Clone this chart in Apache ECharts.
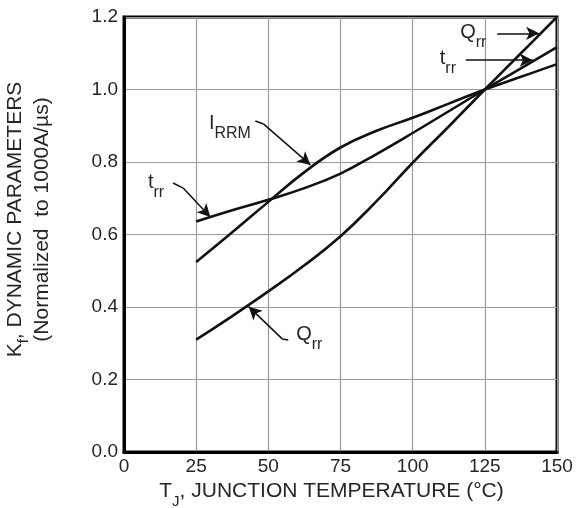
<!DOCTYPE html>
<html>
<head>
<meta charset="utf-8">
<script src="https://cdn.jsdelivr.net/npm/echarts@6/dist/echarts.min.js"></script>
<style>
  html, body { margin: 0; padding: 0; background: #fff; }
  #chart { width: 579px; height: 508px; }
</style>
</head>
<body>
<div id="chart"></div>
<script>
"use strict";
// junction temperature (°C)
var temps = [25, 37.5, 50, 62.5, 75, 87.5, 100, 112.5, 125, 137.5, 150];
// normalized dynamic parameters
var qrrVals  = [0.31, 0.375, 0.443, 0.515, 0.595, 0.692, 0.798, 0.898, 1.0, 1.10, 1.2];
var irrmVals = [0.524, 0.606, 0.69, 0.772, 0.84, 0.886, 0.922, 0.961, 1.0, 1.035, 1.07];
var trrVals  = [0.636, 0.667, 0.696, 0.728, 0.768, 0.822, 0.88, 0.94, 1.0, 1.058, 1.117];

var xTicks = [0, 25, 50, 75, 100, 125, 150];
var yTicks = ['0.0', '0.2', '0.4', '0.6', '0.8', '1.0', '1.2'];

var FONT = 'Liberation Sans, Arial, sans-serif';
var TXT = '#262626';

function pairs(ys) {
    return temps.map(function (t, i) { return [t, ys[i]]; });
}

// rich text: main letter on top of a tall line, subscript pushed to its bottom
function richSet(mainSize, subSize, lh) {
    return {
        m: { fontSize: mainSize, fontFamily: FONT, color: TXT, lineHeight: lh, verticalAlign: 'top' },
        s: { fontSize: subSize, fontFamily: FONT, color: TXT, verticalAlign: 'bottom' },
        n: { fontSize: mainSize, fontFamily: FONT, color: TXT, lineHeight: lh, verticalAlign: 'top' }
    };
}
var labelRich = richSet(20, 16, 28);

function tag(x, y, main, sub) {
    return {
        coord: [x, y],
        symbol: 'circle',
        symbolSize: 1,
        itemStyle: { color: 'rgba(0,0,0,0)' },
        label: { show: true, position: 'inside', formatter: '{m|' + main + '}{s|' + sub + '}', rich: labelRich }
    };
}

// leader segment; arrow only where asked
function seg(a, b, arrow) {
    return [
        { coord: a, symbol: 'none' },
        { coord: b, symbol: arrow ? 'arrow' : 'none' }
    ];
}

var leaderStyle = { color: '#111', width: 1.5, type: 'solid' };

function curve(name, vals, tags, leaders) {
    return {
        name: name,
        type: 'line',
        data: pairs(vals),
        smooth: 0.45,
        showSymbol: false,
        lineStyle: { color: '#111', width: 2.6 },
        silent: true,
        markPoint: { silent: true, data: tags },
        markLine: {
            silent: true,
            symbolSize: [10, 13],
            label: { show: false },
            lineStyle: leaderStyle,
            data: leaders
        }
    };
}

var xTitleRich = richSet(21, 15, 28);
var yTitleRich = richSet(21, 15, 26);
yTitleRich.p = { fontSize: 21, fontFamily: FONT, color: TXT, lineHeight: 22 };

var chart = echarts.init(document.getElementById('chart'));

chart.setOption({
    animation: false,
    grid: {
        left: 124, right: 22, top: 17, bottom: 56,
        outerBoundsMode: 'none',
        containLabel: false,
        show: true, borderColor: '#000', borderWidth: 3, backgroundColor: '#fff'
    },
    xAxis: {
        type: 'value',
        min: 0, max: 150, interval: 25,
        name: '{m|T}{s|J}{n|, JUNCTION TEMPERATURE (°C)}',
        nameLocation: 'middle',
        nameGap: 22,
        nameTextStyle: { rich: xTitleRich, padding: [0, 18, 0, 0] },
        axisLine: { show: true, lineStyle: { color: '#000', width: 3 } },
        axisTick: { show: false },
        axisLabel: {
            margin: 5, fontSize: 19, fontFamily: FONT, color: TXT,
            formatter: function (v) { return xTicks.indexOf(v) >= 0 ? String(v) : ''; }
        },
        splitLine: { show: true, lineStyle: { color: '#9a9a9a', width: 1.2 } }
    },
    yAxis: {
        type: 'value',
        min: 0, max: 1.2, interval: 0.2,
        name: '{m|K}{s|f}{n|, DYNAMIC PARAMETERS}\n{p|(Normalized  to 1000A/µs)}',
        nameLocation: 'middle',
        nameGap: 71,
        nameTextStyle: {
            padding: [0, 0, 0, 30],
            rich: yTitleRich
        },
        axisLine: { show: true, lineStyle: { color: '#000', width: 3 } },
        axisTick: { show: false },
        axisLabel: {
            margin: 6, fontSize: 19, fontFamily: FONT, color: TXT,
            formatter: function (v) { return yTicks[Math.round(v / 0.2)]; }
        },
        splitLine: { show: true, lineStyle: { color: '#9a9a9a', width: 1.2 } }
    },
    series: [
        curve('Qrr', qrrVals,
            [tag(64.2, 0.312, 'Q', 'rr'), tag(121.0, 1.145, 'Q', 'rr')],
            [
                seg([56.9, 0.309], [54.8, 0.312], false),
                seg([54.8, 0.312], [43.2, 0.401], true),
                seg([129.3, 1.155], [143.8, 1.155], true)
            ]),
        curve('IRRM', irrmVals,
            [tag(36.7, 0.895, 'I', 'RRM')],
            [
                seg([45.5, 0.913], [48.3, 0.905], false),
                seg([48.3, 0.905], [64.6, 0.792], true)
            ]),
        curve('trr', trrVals,
            [tag(11.1, 0.733, 't', 'rr'), tag(112.2, 1.075, 't', 'rr')],
            [
                seg([17.0, 0.742], [20.5, 0.728], false),
                seg([20.5, 0.728], [29.9, 0.648], true),
                seg([118.4, 1.081], [141.6, 1.081], true)
            ])
    ]
});
</script>
</body>
</html>
